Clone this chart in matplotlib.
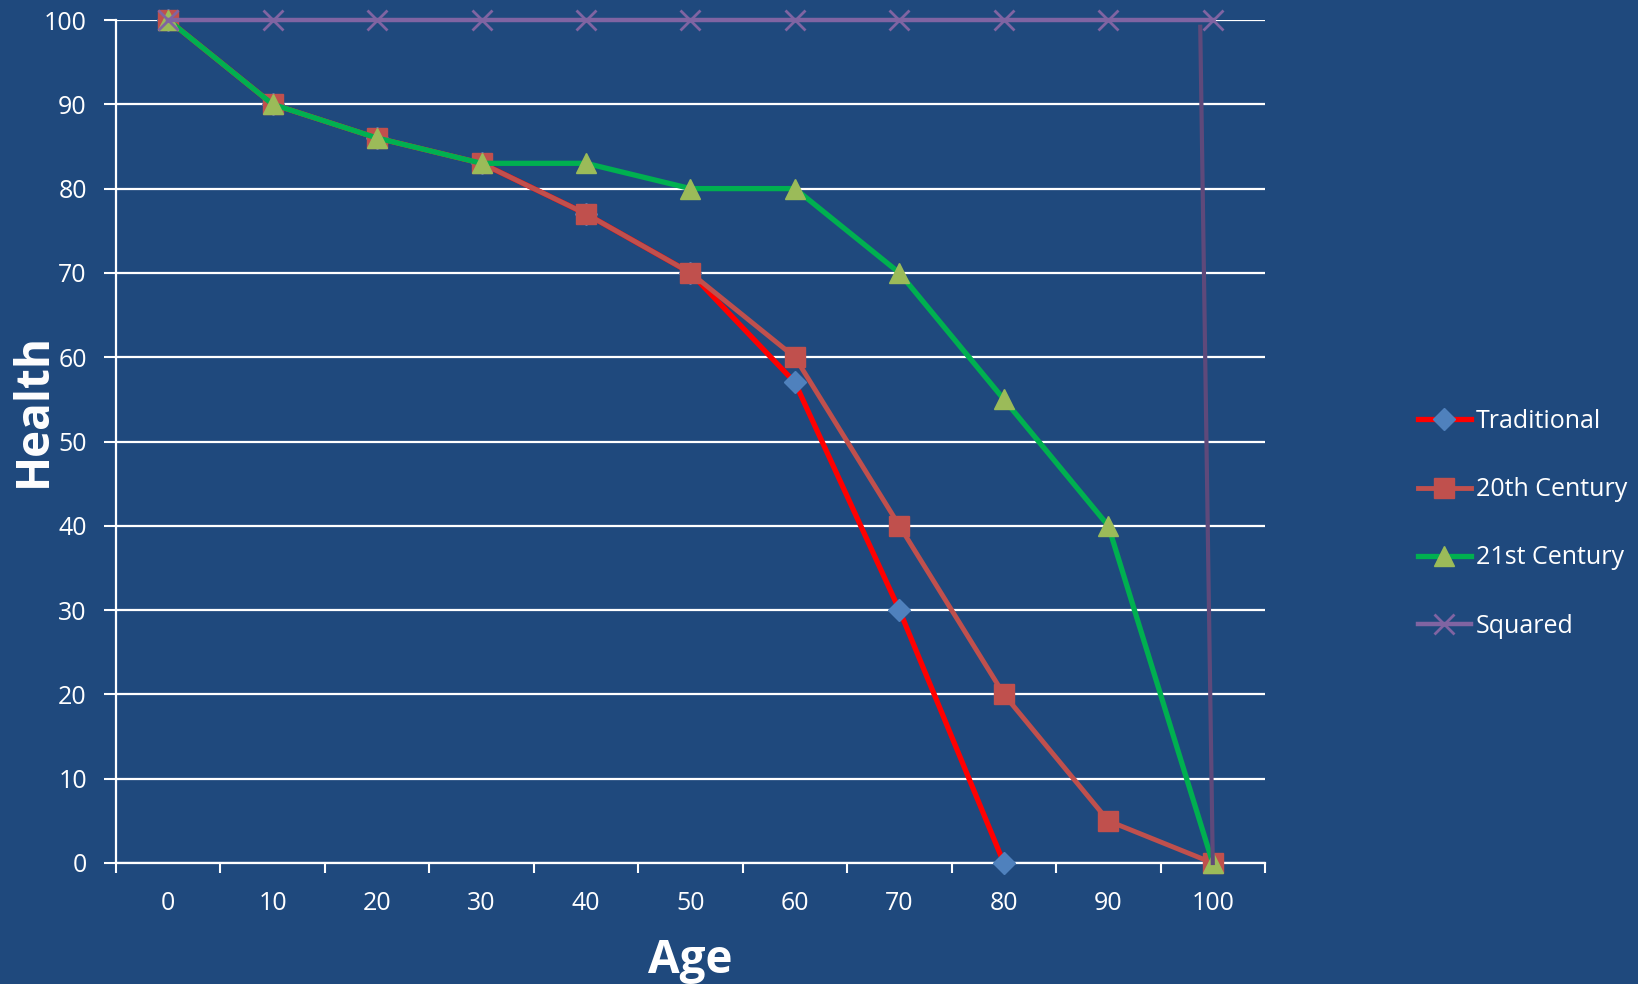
import numpy as np
import matplotlib
matplotlib.use('Agg')
import matplotlib.pyplot as plt

# chart data
ages = [0, 10, 20, 30, 40, 50, 60, 70, 80, 90, 100]
traditional = [100, 90, 86, 83, 77, 70, 57, 30, 0]
century_20 = [100, 90, 86, 83, 77, 70, 60, 40, 20, 5, 0]
century_21 = [100, 90, 86, 83, 83, 80, 80, 70, 55, 40, 0]
squared = [100, 100, 100, 100, 100, 100, 100, 100, 100, 100, 100]
# hand drawn drop at the end of the "Squared" curve
squared_drop_age = [98.8, 100]
squared_drop_health = [99.2, 0]

bg = '#1F497D'
plt.rcParams['font.family'] = ['Open Sans', 'DejaVu Sans']

fig = plt.figure(figsize=(16.38, 9.84), dpi=100, facecolor=bg)
ax = fig.add_axes([116 / 1638, 1 - 863 / 984, (1265 - 116) / 1638, (863 - 20) / 984])
ax.set_facecolor(bg)

ax.plot(ages[:len(traditional)], traditional, color='#FF0000', lw=3.8,
        marker='D', ms=11, mfc='#4F81BD', mec='#4F81BD', label='Traditional',
        clip_on=False, zorder=3)
ax.plot(ages, century_20, color='#C0504D', lw=3.5, marker='s', ms=14,
        mfc='#C0504D', mec='#C0504D', label='20th Century', clip_on=False, zorder=4)
ax.plot(ages, century_21, color='#00B050', lw=3.8, marker='^', ms=15,
        mfc='#9BBB59', mec='#9BBB59', label='21st Century', clip_on=False, zorder=5)
ax.plot(ages, squared, color='#8064A2', lw=3.2, marker='x', ms=15, mew=2,
        mec='#8064A2', label='Squared', clip_on=False, zorder=6)
ax.plot(squared_drop_age, squared_drop_health, color='#5F497A', lw=3.0,
        clip_on=False, zorder=6)

ax.set_xlim(-5, 105)
ax.set_ylim(0, 100)

# category style x axis: ticks between categories, labels at centres
ax.set_xticks(np.arange(-5, 106, 10))
ax.set_xticklabels([])
ax.set_xticks(ages, minor=True)
ax.set_xticklabels([str(a) for a in ages], minor=True)
ax.tick_params(axis='x', which='major', direction='out', length=7, width=1.5, color='white')
ax.tick_params(axis='x', which='minor', length=0, pad=20, labelsize=18, labelcolor='white')

ax.set_yticks(np.arange(0, 101, 10))
ax.tick_params(axis='y', direction='out', length=9, width=1.5, color='white',
               pad=12, labelsize=18, labelcolor='white')

ax.grid(axis='y', color='white', lw=1.6, zorder=1)
ax.set_axisbelow(True)
for side in ['top', 'right']:
    ax.spines[side].set_visible(False)
for side in ['left', 'bottom']:
    ax.spines[side].set_color('white')
    ax.spines[side].set_linewidth(1.6)

fig.text(690 / 1638, 1 - 960 / 984, 'Age', color='white', fontsize=33,
         fontweight='bold', ha='center', va='center')
fig.text(33 / 1638, 1 - 410 / 984, 'Health', color='white', fontsize=33,
         fontweight='bold', ha='center', va='center', rotation=90)

leg = fig.legend(loc='upper left', bbox_to_anchor=(1408 / 1638, 1 - 399 / 984),
                 frameon=False, fontsize=18, handlelength=2.1, handletextpad=0.2,
                 labelspacing=1.73, borderaxespad=0)
for t in leg.get_texts():
    t.set_color('white')

fig.savefig('out.png', dpi=100, facecolor=bg)
